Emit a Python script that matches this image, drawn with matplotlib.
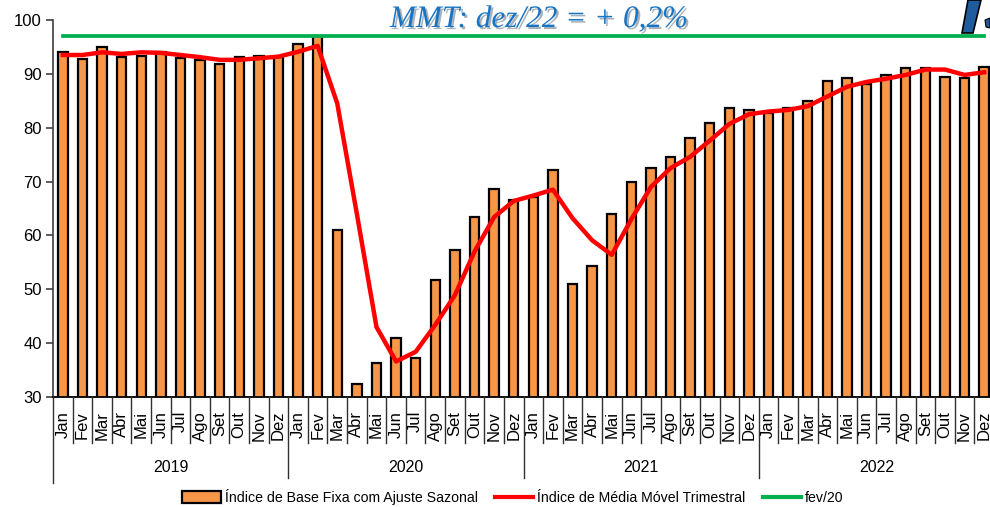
import numpy as np
import matplotlib
matplotlib.use("Agg")
import matplotlib.pyplot as plt
from matplotlib.patches import Patch, Polygon
from matplotlib.lines import Line2D
import matplotlib.patheffects as pe
import matplotlib.transforms as mtrans

plt.rcParams['font.family'] = ['Liberation Sans Narrow', 'Liberation Sans', 'DejaVu Sans']

# ---------------- data ----------------
months = ['Jan', 'Fev', 'Mar', 'Abr', 'Mai', 'Jun', 'Jul', 'Ago', 'Set', 'Out', 'Nov', 'Dez']
years = ['2019', '2020', '2021', '2022']

base_2019 = [94.1, 92.8, 94.9, 93.2, 93.4, 94.1, 92.9, 92.6, 91.8, 93.1, 93.3, 93.2]
base_2020 = [95.5, 97.0, 61.0, 32.5, 36.4, 41.0, 37.3, 51.7, 57.3, 63.5, 68.7, 66.6]
base_2021 = [67.2, 72.1, 50.9, 54.3, 64.0, 69.9, 72.6, 74.6, 78.0, 80.8, 83.6, 83.3]
base_2022 = [82.7, 83.6, 85.0, 88.7, 89.2, 88.2, 89.7, 91.1, 91.1, 89.5, 89.2, 91.3]

mmt_2019 = [93.5, 93.5, 94.0, 93.7, 94.0, 93.9, 93.5, 93.1, 92.6, 92.6, 92.9, 93.2]
mmt_2020 = [94.1, 95.2, 84.5, 64.0, 43.0, 36.6, 38.4, 43.4, 48.9, 57.0, 63.4, 66.4]
mmt_2021 = [67.4, 68.5, 63.2, 59.1, 56.4, 63.0, 69.0, 72.5, 74.6, 77.6, 80.7, 82.5]
mmt_2022 = [83.0, 83.3, 84.0, 85.8, 87.6, 88.5, 89.1, 89.8, 90.8, 90.8, 89.8, 90.3]

fev20_level = 97.0

title_text = 'MMT: dez/22 = + 0,2%'
legend_labels = ['Índice de Base Fixa com Ajuste Sazonal',
                 'Índice de Média Móvel Trimestral',
                 'fev/20']

base = base_2019 + base_2020 + base_2021 + base_2022
mmt = mmt_2019 + mmt_2020 + mmt_2021 + mmt_2022
n = len(base)
x = np.arange(n)

# ---------------- figure ----------------
W, H = 990, 507
fig = plt.figure(figsize=(W / 100, H / 100), dpi=100)
fig.patch.set_facecolor('white')
ax = fig.add_axes([53 / W, 110 / H, 941 / W, 377 / H])

orange = '#F79646'
red = '#FF0000'
green = '#00B050'

ax.bar(x, base, width=0.48, color=orange, edgecolor='black', linewidth=1.6, zorder=2)
ax.plot(x, mmt, color=red, lw=3.2, zorder=3, solid_joinstyle='round')
ax.plot(x, np.full(n, fev20_level), color=green, lw=2.7, zorder=4)

ax.set_xlim(-0.5, n - 0.5)
ax.set_ylim(30, 100)
ax.set_yticks(np.arange(30, 101, 10))
for s in ['top', 'right']:
    ax.spines[s].set_visible(False)
ax.spines['left'].set_color('#404040')
ax.spines['left'].set_linewidth(1.2)
ax.spines['bottom'].set_color('black')
ax.spines['bottom'].set_linewidth(1.3)
ax.tick_params(axis='y', labelsize=12, length=5, width=1.2, color='#404040', pad=3)
ax.set_xticks(x)
ax.set_xticklabels(months * len(years), rotation=90, fontsize=12)
ax.tick_params(axis='x', length=0, pad=10)


def fy(py):
    return (H - py) / H


blend = mtrans.blended_transform_factory(ax.transData, fig.transFigure)

# category separators
for b in range(n + 1):
    xb = b - 0.5
    if b == 0:
        y_end = fy(483)
    elif b % 12 == 0:
        y_end = fy(478)
    else:
        y_end = fy(443)
    fig.add_artist(Line2D([xb, xb], [fy(397), y_end], color='#303030', lw=1.0,
                          transform=blend, clip_on=False))

# year labels
for i, yr in enumerate(years):
    fig.text(i * 12 + 5.5, fy(468), yr, ha='center', va='center', fontsize=11.5,
             transform=blend)

# legend
handles = [Patch(facecolor=orange, edgecolor='black', linewidth=1.6),
           Line2D([], [], color=red, lw=3.0),
           Line2D([], [], color=green, lw=3.0)]
fig.legend(handles, legend_labels, loc='center', bbox_to_anchor=(513 / W, fy(497)),
           ncol=3, frameon=False, fontsize=10.2, handlelength=2.7, handleheight=0.9,
           handletextpad=0.3, columnspacing=1.2, borderaxespad=0, borderpad=0)

# title
fig.text(539 / W, fy(27), title_text, ha='center', va='baseline', color='#1874C4',
         fontsize=22.5, style='italic', family='Liberation Serif',
         path_effects=[pe.SimplePatchShadow(offset=(1.5, -1.5), alpha=0.35), pe.Normal()])

# decorative partial logo at top-right
fig.add_artist(Polygon([(962 / W, fy(33)), (973 / W, fy(33)), (981 / W, fy(0)), (968 / W, fy(0))],
                       closed=True, facecolor='#1F5C9E', edgecolor='black', lw=1.2,
                       transform=fig.transFigure))
fig.add_artist(Polygon([(985 / W, fy(20)), (990 / W, fy(18)), (990 / W, fy(28)), (986 / W, fy(27))],
                       closed=True, facecolor='#1F5C9E', edgecolor='black', lw=0.8,
                       transform=fig.transFigure))

fig.savefig('out.png', dpi=100, facecolor='white')
